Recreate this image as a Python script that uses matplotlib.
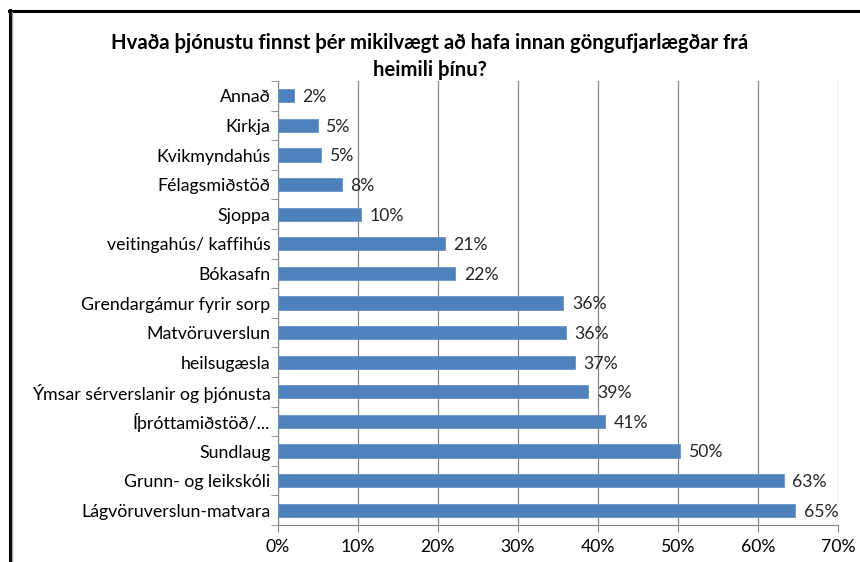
import numpy as np
import matplotlib.pyplot as plt
from matplotlib.lines import Line2D

plt.rcParams['font.family'] = ['Lato', 'DejaVu Sans']

categories = ['Annað', 'Kirkja', 'Kvikmyndahús', 'Félagsmiðstöð', 'Sjoppa',
              'veitingahús/ kaffihús', 'Bókasafn', 'Grendargámur fyrir sorp',
              'Matvöruverslun', 'heilsugæsla', 'Ýmsar sérverslanir og þjónusta',
              'Íþróttamiðstöð/...', 'Sundlaug', 'Grunn- og leikskóli',
              'Lágvöruverslun-matvara']
values = [2.0, 5.0, 5.4, 8.0, 10.4, 20.9, 22.2, 35.7, 36.0, 37.1, 38.8, 40.9, 50.3, 63.2, 64.6]
labels = ['2%', '5%', '5%', '8%', '10%', '21%', '22%', '36%', '36%', '37%',
          '39%', '41%', '50%', '63%', '65%']
xticks = [0, 10, 20, 30, 40, 50, 60, 70]
title = 'Hvaða þjónustu finnst þér mikilvægt að hafa innan göngufjarlægðar frá\nheimili þínu?'

fig = plt.figure(figsize=(8.6, 5.62), dpi=100)
ax = fig.add_axes([277.5 / 860, 1 - 525 / 562, (838 - 277.5) / 860, (525 - 81) / 562])

y = np.arange(len(categories))
ax.barh(y, values, height=0.44, color='#4F81BD', edgecolor='#6A93C8', linewidth=0.6, zorder=3)
for yi, v, lab in zip(y, values, labels):
    ax.text(v + 1.1, yi + 0.05, lab, va='center', ha='left', fontsize=12.7,
            color='#262626', zorder=4)

ax.set_ylim(len(categories) - 0.5, -0.5)
ax.set_xlim(0, 70)
ax.set_yticks(y)
ax.set_yticklabels(categories, fontsize=12.8)
ax.set_yticks(np.arange(len(categories) + 1) - 0.5, minor=True)
ax.tick_params(axis='y', which='major', length=0, pad=5)
ax.tick_params(axis='y', which='minor', length=5, color='#868686')
ax.set_xticks(xticks)
ax.set_xticklabels([f'{t}%' for t in xticks], fontsize=12.7)
ax.tick_params(axis='x', length=5, color='#868686', pad=5)
ax.xaxis.grid(True, color='#868686', linewidth=0.9, zorder=0)

for s in ['top', 'right']:
    ax.spines[s].set_visible(False)
for s in ['left', 'bottom']:
    ax.spines[s].set_color('#868686')

fig.text(0.5, 1 - 56.5 / 562, title, ha='center', va='center', fontsize=14.6,
         fontweight='bold', linespacing=1.38)

# outer chart frame (partly cut off in the original)
fig.add_artist(Line2D([9.5 / 860, 9.5 / 860], [0, 1 - 10 / 562], color='black', lw=2.2,
                      transform=fig.transFigure))
fig.add_artist(Line2D([8.5 / 860, 1], [1 - 10.5 / 562, 1 - 10.5 / 562], color='black', lw=2.2,
                      transform=fig.transFigure))
fig.add_artist(Line2D([11.5 / 860, 11.5 / 860], [0, 1 - 12 / 562], color='#A0A0A0', lw=1,
                      transform=fig.transFigure))

fig.savefig('out.png', dpi=100)
